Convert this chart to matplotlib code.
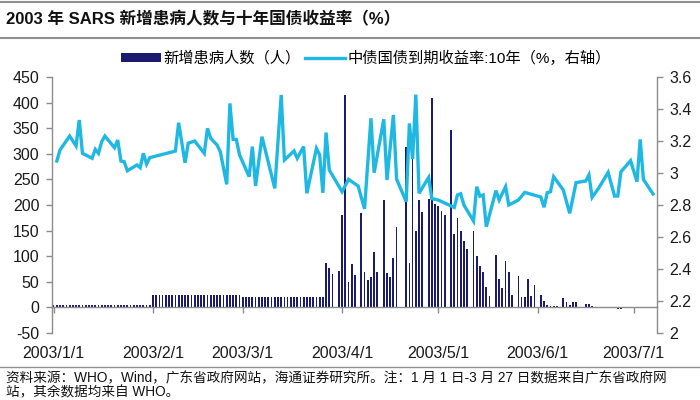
import matplotlib
matplotlib.use('Agg')
import matplotlib.pyplot as plt
import matplotlib.dates as mdates
from matplotlib.lines import Line2D
from matplotlib.patches import Patch
import pandas as pd

plt.rcParams['font.family'] = ['Liberation Sans', 'Noto Sans CJK SC']

# ---------------- data ----------------
# Guangdong daily new cases, 2003-01-01 .. 2003-03-26
gd_start = '2003-01-01'
gd_cases = [4, 4, 4, 4, 4, 4, 4, 4, 4, 4, 4, 4, 4, 4, 4, 4, 4, 4, 4, 4, 4, 4, 4, 4, 4, 4, 4, 4, 4, 4, 4,
            25, 25, 25, 25, 25, 25, 25, 25, 25, 25, 25, 25, 25, 25, 25, 25, 25, 25, 25, 25, 25, 25, 25, 25, 25, 25, 25, 25,
            21, 21, 21, 21, 21, 21, 21, 21, 21, 21, 21, 21, 21, 21, 21, 21, 21, 21, 21, 21, 21, 21, 21, 21, 21, 21]

# WHO daily new cases
who_dates = ['2003-03-27', '2003-03-28', '2003-03-29', '2003-03-31', '2003-04-01', '2003-04-02',
             '2003-04-03', '2003-04-04', '2003-04-05', '2003-04-07', '2003-04-08', '2003-04-09',
             '2003-04-10', '2003-04-11', '2003-04-12', '2003-04-14', '2003-04-15', '2003-04-16',
             '2003-04-17', '2003-04-18', '2003-04-21', '2003-04-22', '2003-04-23', '2003-04-24',
             '2003-04-25', '2003-04-26', '2003-04-28', '2003-04-29', '2003-04-30', '2003-05-01',
             '2003-05-02', '2003-05-03', '2003-05-05', '2003-05-06', '2003-05-07', '2003-05-08',
             '2003-05-09', '2003-05-10', '2003-05-12', '2003-05-13', '2003-05-14', '2003-05-15',
             '2003-05-16', '2003-05-17', '2003-05-19', '2003-05-20', '2003-05-21', '2003-05-22',
             '2003-05-23', '2003-05-24', '2003-05-26', '2003-05-27', '2003-05-28', '2003-05-29',
             '2003-05-30', '2003-05-31', '2003-06-02', '2003-06-03', '2003-06-04', '2003-06-05',
             '2003-06-06', '2003-06-07', '2003-06-09', '2003-06-10', '2003-06-11', '2003-06-12',
             '2003-06-13', '2003-06-16', '2003-06-17', '2003-06-18', '2003-06-19', '2003-06-20',
             '2003-06-25', '2003-06-26', '2003-06-27', '2003-07-02', '2003-07-03']
who_cases = [86, 77, 66, 72, 181, 415,
             49, 84, 64, 184, 70, 53,
             59, 109, 70, 209, 67, 59,
             96, 157, 313, 87, 338, 150,
             209, 186, 212, 409, 202, 199,
             189, 180, 347, 144, 174, 150,
             130, 114, 150, 100, 80, 70,
             40, 22, 103, 56, 38, 90,
             70, 25, 61, 20, 20, 56,
             23, 43, 25, 13, 5, 2,
             2, 2, 18, 10, 5, 10,
             10, 7, 6, 3, 1, -2,
             1, -3, -3, 1, 1]

# 10-year China government bond yield (%)
yield_dates = ['2003-01-02', '2003-01-03', '2003-01-06', '2003-01-08', '2003-01-09', '2003-01-10',
               '2003-01-13', '2003-01-14', '2003-01-15', '2003-01-16', '2003-01-17', '2003-01-20',
               '2003-01-21', '2003-01-22', '2003-01-23', '2003-01-24', '2003-01-27', '2003-01-28',
               '2003-01-29', '2003-01-30', '2003-01-31', '2003-02-08', '2003-02-09', '2003-02-11',
               '2003-02-12', '2003-02-14', '2003-02-17', '2003-02-18', '2003-02-19', '2003-02-21',
               '2003-02-22', '2003-02-24', '2003-02-25', '2003-02-26', '2003-02-27', '2003-02-28',
               '2003-03-03', '2003-03-04', '2003-03-05', '2003-03-07', '2003-03-11', '2003-03-13',
               '2003-03-14', '2003-03-17', '2003-03-18', '2003-03-20', '2003-03-21', '2003-03-24',
               '2003-03-25', '2003-03-26', '2003-03-27', '2003-03-28', '2003-04-01', '2003-04-03',
               '2003-04-06', '2003-04-08', '2003-04-10', '2003-04-11', '2003-04-14', '2003-04-15',
               '2003-04-17', '2003-04-18', '2003-04-21', '2003-04-22', '2003-04-23', '2003-04-24',
               '2003-04-25', '2003-04-28', '2003-04-29', '2003-05-01', '2003-05-06', '2003-05-07',
               '2003-05-08', '2003-05-09', '2003-05-12', '2003-05-13', '2003-05-14', '2003-05-15',
               '2003-05-16', '2003-05-19', '2003-05-20', '2003-05-22', '2003-05-23', '2003-05-26',
               '2003-05-28', '2003-05-30', '2003-06-02', '2003-06-03', '2003-06-04', '2003-06-05',
               '2003-06-06', '2003-06-09', '2003-06-11', '2003-06-13', '2003-06-16', '2003-06-17',
               '2003-06-18', '2003-06-20', '2003-06-23', '2003-06-25', '2003-06-26', '2003-06-27',
               '2003-06-30', '2003-07-02', '2003-07-03', '2003-07-04', '2003-07-07']
yield_values = [3.075, 3.144, 3.231, 3.169, 3.331, 3.123,
                3.092, 3.148, 3.123, 3.196, 3.231, 3.158,
                3.206, 3.075, 3.071, 3.014, 3.050, 3.033,
                3.123, 3.056, 3.096, 3.137, 3.314, 3.064,
                3.186, 3.200, 3.123, 3.279, 3.217, 3.175,
                3.133, 2.929, 3.435, 3.210, 3.210, 3.113,
                2.977, 3.165, 2.919, 3.227, 2.904, 3.488,
                3.081, 3.138, 3.092, 3.165, 2.873, 3.154,
                3.113, 2.876, 3.253, 3.019, 2.883, 2.960,
                2.919, 2.776, 3.342, 3.002, 3.336, 2.956,
                3.363, 2.962, 2.821, 3.310, 3.087, 3.490,
                2.873, 2.972, 2.840, 2.831, 2.785, 2.863,
                2.870, 2.800, 2.700, 2.914, 2.855, 2.863,
                2.664, 2.890, 2.831, 2.914, 2.800, 2.831,
                2.879, 2.867, 2.850, 2.786, 2.877, 2.883,
                2.977, 2.894, 2.748, 2.940, 2.950, 2.988,
                2.848, 2.904, 3.004, 2.856, 2.856, 3.008,
                3.077, 2.946, 3.210, 2.960, 2.869]

xtick_dates = ['2003-01-01', '2003-02-01', '2003-03-01', '2003-04-01', '2003-05-01', '2003-06-01', '2003-07-01']
xtick_labels = ['2003/1/1', '2003/2/1', '2003/3/1', '2003/4/1', '2003/5/1', '2003/6/1', '2003/7/1']
left_ticks = [-50, 0, 50, 100, 150, 200, 250, 300, 350, 400, 450]
right_ticks = [2.0, 2.2, 2.4, 2.6, 2.8, 3.0, 3.2, 3.4, 3.6]
right_labels = ['2', '2.2', '2.4', '2.6', '2.8', '3', '3.2', '3.4', '3.6']

title = '2003 年 SARS 新增患病人数与十年国债收益率（%）'
bar_label = '新增患病人数（人）'
line_label = '中债国债到期收益率:10年（%，右轴）'
source1 = '资料来源：WHO，Wind，广东省政府网站，海通证券研究所。注：1 月 1 日-3 月 27 日数据来自广东省政府网'
source2 = '站，其余数据均来自 WHO。'

# ---------------- styling ----------------
navy = '#1b1b70'
cyan = '#1fb8e3'
gray = '#8c8c8c'

gd_dates = pd.date_range(gd_start, periods=len(gd_cases), freq='D')
case_dates = list(gd_dates) + list(pd.to_datetime(who_dates))
case_values = gd_cases + who_cases

fig = plt.figure(figsize=(7, 4), dpi=100)
ax = fig.add_axes([0.0743, 0.1675, 0.8643, 0.64])
ax2 = ax.twinx()

ax.bar(case_dates, case_values, width=0.55, color=navy, linewidth=0, zorder=2)
ax2.plot(pd.to_datetime(yield_dates), yield_values, color=cyan, linewidth=2.4,
         solid_joinstyle='miter', zorder=3)

ax.set_xlim(pd.Timestamp('2002-12-31 12:00'), pd.Timestamp('2003-07-08 06:00'))
ax.set_ylim(-50, 450)
ax2.set_ylim(2.0, 3.6)

ax.set_yticks(left_ticks)
ax.set_yticklabels([str(v) for v in left_ticks])
ax2.set_yticks(right_ticks)
ax2.set_yticklabels(right_labels)
ax.set_xticks(pd.to_datetime(xtick_dates))
ax.set_xticklabels(xtick_labels)

for s in ['top', 'right']:
    ax.spines[s].set_visible(False)
ax.spines['bottom'].set_position(('data', 0))
for s in ['top', 'left', 'bottom']:
    ax2.spines[s].set_visible(False)
for sp in [ax.spines['left'], ax.spines['bottom'], ax2.spines['right']]:
    sp.set_color(gray)
    sp.set_linewidth(1.0)

ax.tick_params(axis='x', direction='out', length=4, width=1, color=gray, pad=24,
               labelsize=11.5, labelcolor='#1a1a1a')
ax.tick_params(axis='y', direction='out', length=4, width=1, color=gray, pad=5,
               labelsize=11.5, labelcolor='#1a1a1a')
ax2.tick_params(axis='y', direction='out', length=4, width=1, color=gray, pad=5,
                labelsize=11.5, labelcolor='#1a1a1a')

ax.set_zorder(1)
ax2.set_zorder(2)
ax.patch.set_visible(False)
ax2.patch.set_visible(False)

# legend
handles = [Patch(facecolor=navy, edgecolor='none', label=bar_label),
           Line2D([0], [0], color=cyan, lw=2.4, label=line_label)]
fig.legend(handles=handles, loc='center', bbox_to_anchor=(0.523, 0.855), ncol=2,
           frameon=False, fontsize=11, handlelength=2.6, handleheight=0.5,
           handletextpad=0.15, columnspacing=0.3, borderaxespad=0)

# title, rules and source
fig.add_artist(Line2D([0, 1], [0.995, 0.995], color='#909090', lw=1.5, transform=fig.transFigure))
fig.add_artist(Line2D([0, 1], [0.905, 0.905], color='#909090', lw=1.5, transform=fig.transFigure))
fig.add_artist(Line2D([0, 1], [0.083, 0.083], color='#909090', lw=1.0, transform=fig.transFigure))
fig.text(0.008, 0.953, title, fontsize=12, fontweight='bold', va='center', ha='left', color='#111111')
fig.text(0.008, 0.055, source1, fontsize=9.8, va='center', ha='left', color='#111111')
fig.text(0.008, 0.018, source2, fontsize=9.8, va='center', ha='left', color='#111111')

fig.savefig('out.png', dpi=100)
